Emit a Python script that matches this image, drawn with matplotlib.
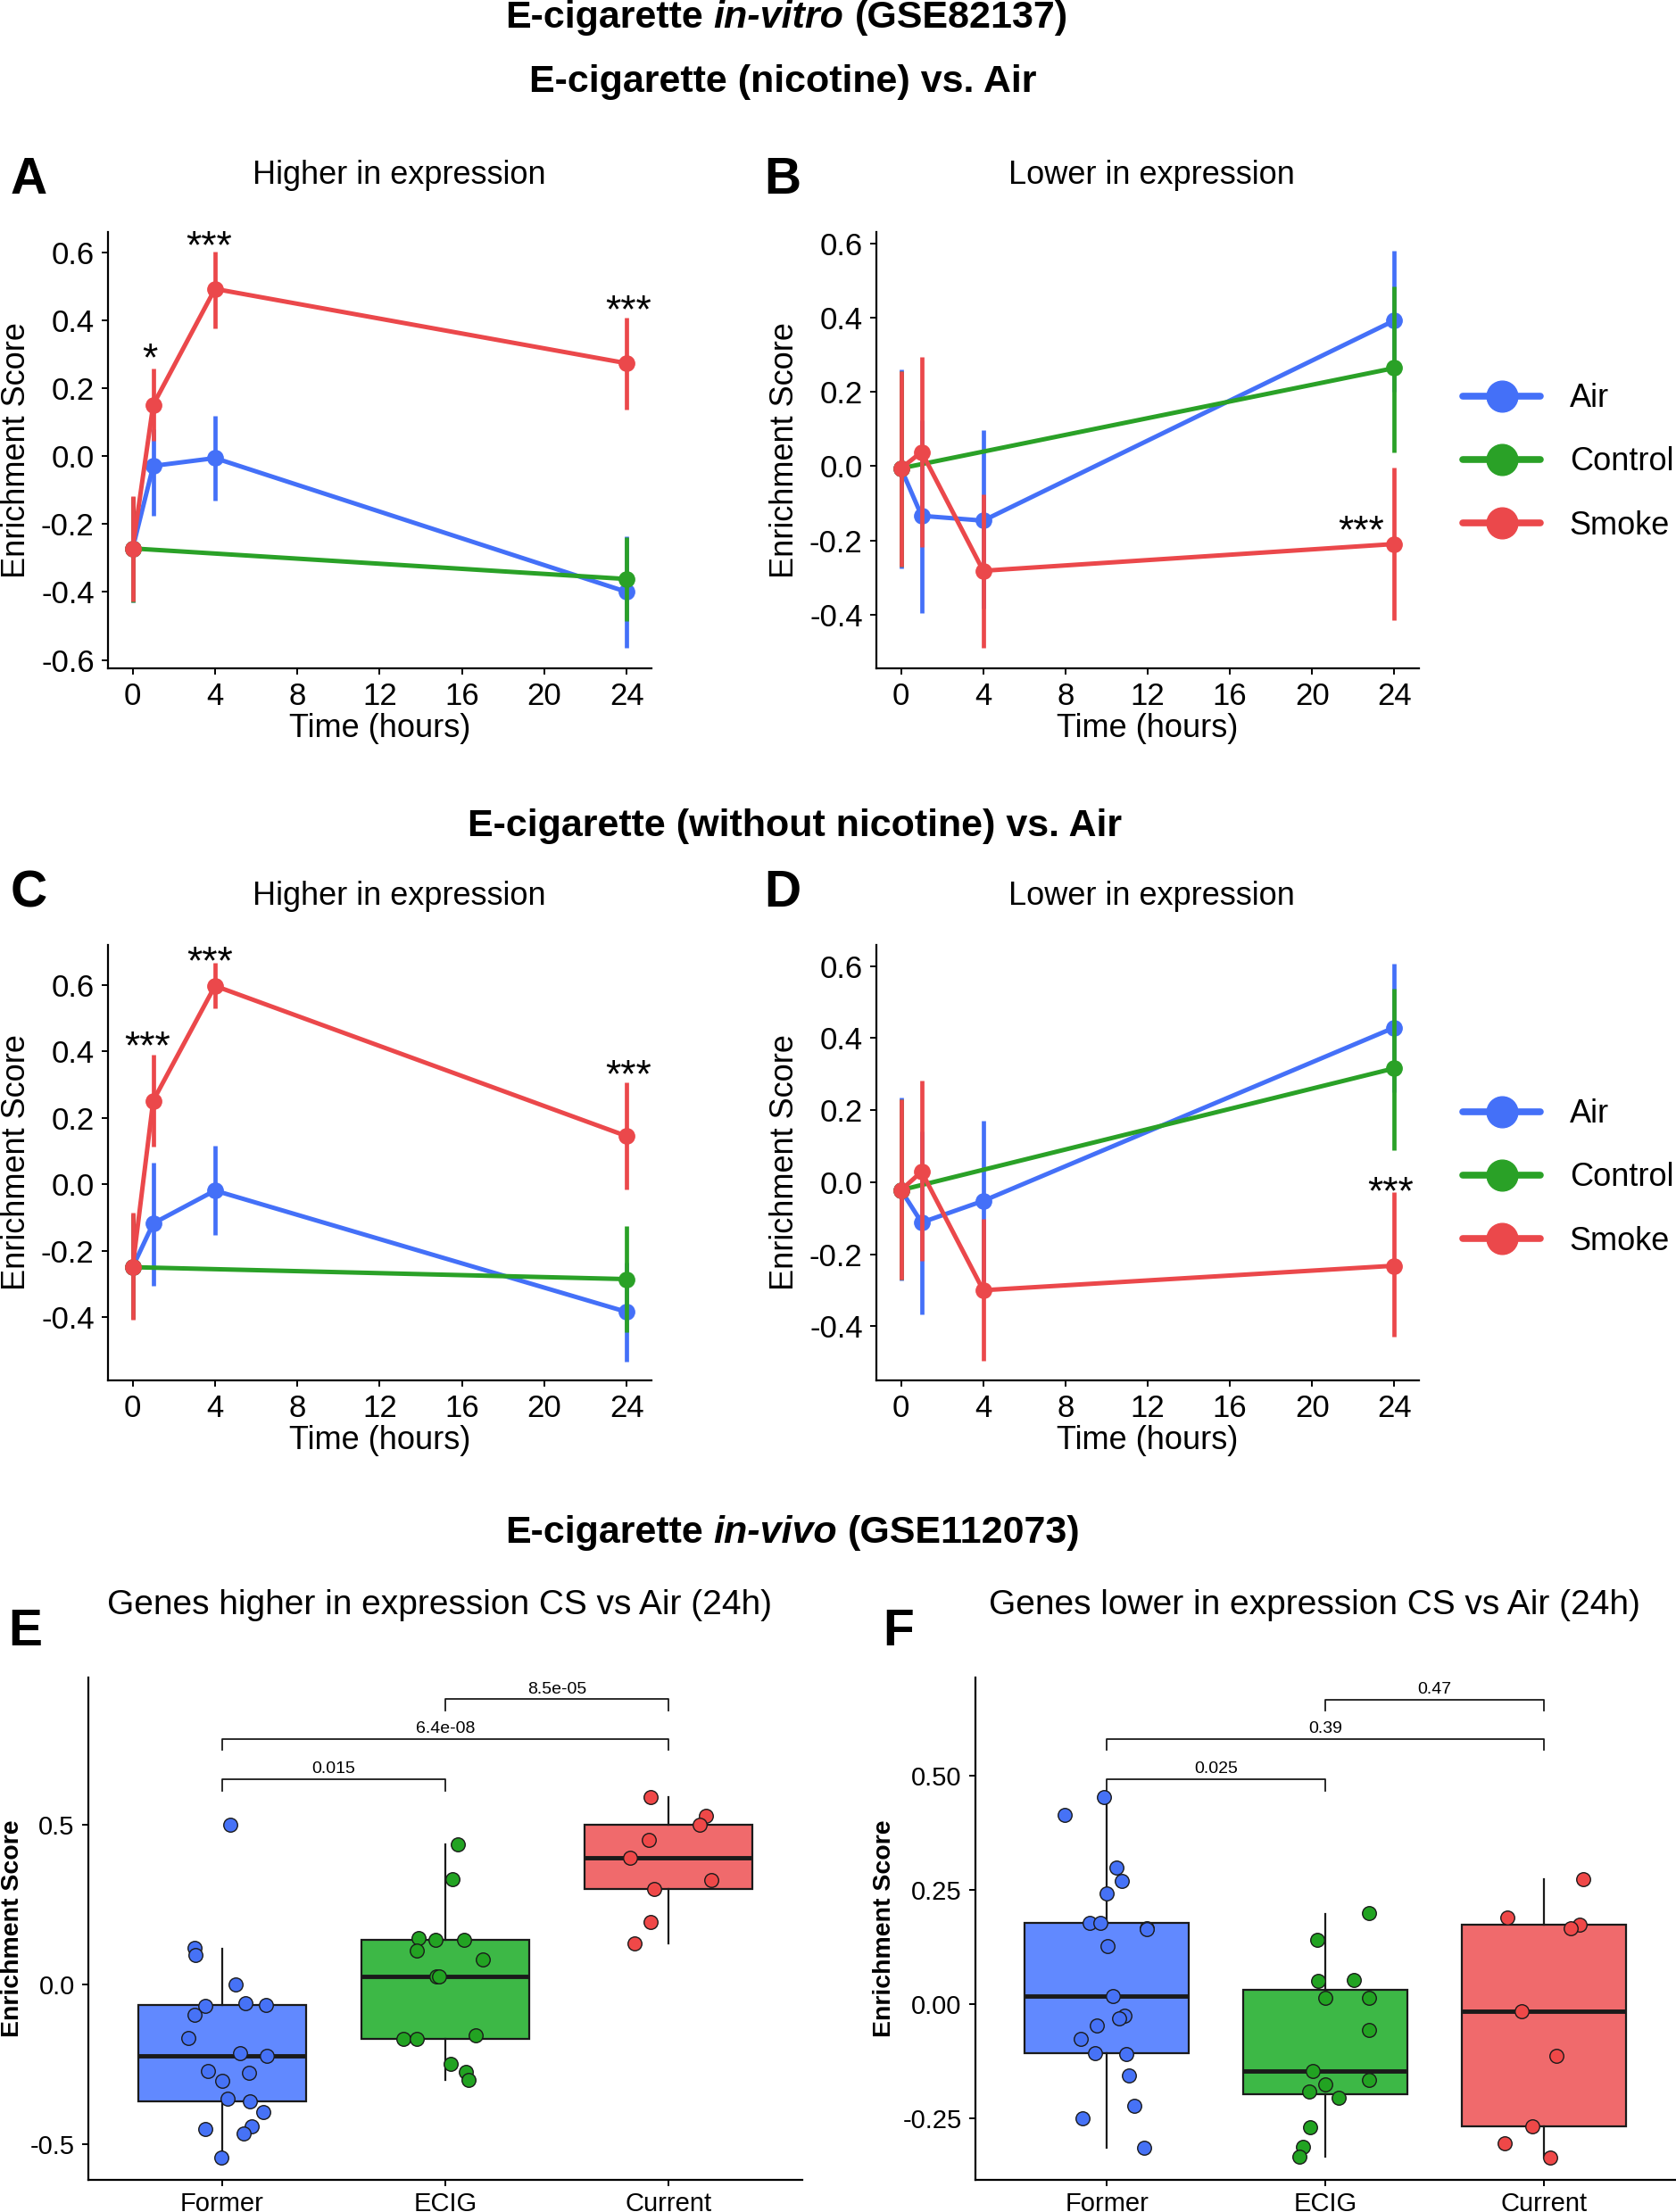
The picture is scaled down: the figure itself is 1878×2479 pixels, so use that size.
import matplotlib
matplotlib.use('Agg')
import matplotlib.pyplot as plt
from matplotlib.lines import Line2D
import numpy as np

plt.rcParams['font.family'] = ['Liberation Sans', 'DejaVu Sans']
plt.rcParams['axes.unicode_minus'] = False

# ---------------- data: in-vitro time courses ----------------
time_points = [0, 1, 4, 24]
control_times = [0, 24]
group_names = ['Air', 'Control', 'Smoke']

# Panel A (nicotine, higher in expression)
A_air = [-0.272, -0.029, -0.006, -0.400]
A_air_lo = [-0.430, -0.177, -0.132, -0.565]
A_air_hi = [-0.120, 0.080, 0.119, -0.235]
A_ctrl = [-0.272, -0.362]
A_ctrl_lo = [-0.430, -0.485]
A_ctrl_hi = [-0.120, -0.240]
A_smoke = [-0.272, 0.151, 0.492, 0.273]
A_smoke_lo = [-0.428, 0.045, 0.375, 0.138]
A_smoke_hi = [-0.117, 0.258, 0.603, 0.407]
A_star_lab = ['*', '***', '***']
A_star_t = [0.85, 3.7, 24.1]
A_star_y = [0.32, 0.65, 0.461]

# Panel B (nicotine, lower in expression)
B_air = [-0.006, -0.134, -0.147, 0.392]
B_air_lo = [-0.275, -0.395, -0.384, 0.200]
B_air_hi = [0.260, 0.123, 0.097, 0.579]
B_ctrl = [-0.006, 0.264]
B_ctrl_lo = [-0.270, 0.038]
B_ctrl_hi = [0.256, 0.485]
B_smoke = [-0.006, 0.038, -0.282, -0.210]
B_smoke_lo = [-0.270, -0.218, -0.489, -0.416]
B_smoke_hi = [0.256, 0.295, -0.077, -0.004]
B_star_lab = ['***']
B_star_t = [22.4]
B_star_y = [-0.145]

# Panel C (without nicotine, higher in expression)
C_air = [-0.250, -0.118, -0.019, -0.385]
C_air_lo = [-0.405, -0.305, -0.154, -0.535]
C_air_hi = [-0.090, 0.064, 0.116, -0.235]
C_ctrl = [-0.250, -0.286]
C_ctrl_lo = [-0.405, -0.447]
C_ctrl_hi = [-0.090, -0.125]
C_smoke = [-0.250, 0.252, 0.598, 0.145]
C_smoke_lo = [-0.408, 0.113, 0.531, -0.015]
C_smoke_hi = [-0.086, 0.390, 0.667, 0.306]
C_star_lab = ['***', '***', '***']
C_star_t = [0.73, 3.77, 24.1]
C_star_y = [0.448, 0.705, 0.362]

# Panel D (without nicotine, lower in expression)
D_air = [-0.022, -0.112, -0.052, 0.429]
D_air_lo = [-0.273, -0.366, -0.275, 0.250]
D_air_hi = [0.234, 0.141, 0.171, 0.606]
D_ctrl = [-0.022, 0.316]
D_ctrl_lo = [-0.270, 0.089]
D_ctrl_hi = [0.231, 0.537]
D_smoke = [-0.022, 0.029, -0.300, -0.232]
D_smoke_lo = [-0.270, -0.219, -0.496, -0.430]
D_smoke_hi = [0.231, 0.282, -0.103, -0.028]
D_star_lab = ['***']
D_star_t = [23.8]
D_star_y = [0.002]

# ---------------- data: in-vivo boxplots ----------------
box_groups = ['Former', 'ECIG', 'Current']

E_former = [0.500, 0.113, 0.091, -0.001, -0.068, -0.061, -0.064, -0.097, -0.168, -0.215,
            -0.225, -0.271, -0.279, -0.303, -0.358, -0.368, -0.402, -0.453, -0.446, -0.467, -0.543]
E_former_jit = [0.038, -0.124, -0.120, 0.060, -0.074, 0.103, 0.196, -0.124, -0.151, 0.079,
                0.199, -0.065, 0.120, 0.000, 0.026, 0.124, 0.184, -0.077, 0.131, 0.098, -0.005]
E_ecig = [0.145, 0.138, 0.138, 0.105, 0.078, 0.024, 0.024, 0.437, 0.329, -0.172,
          -0.172, -0.161, -0.251, -0.275, -0.300]
E_ecig_jit = [-0.120, -0.043, 0.086, -0.127, 0.167, -0.041, -0.026, 0.057, 0.033, -0.187,
              -0.129, 0.136, 0.024, 0.091, 0.105]
E_current = [0.585, 0.526, 0.500, 0.452, 0.397, 0.326, 0.299, 0.195, 0.128]
E_current_jit = [-0.079, 0.170, 0.141, -0.089, -0.172, 0.194, -0.062, -0.081, -0.151]
# box statistics (q1, median, q3, lower whisker, upper whisker)
E_q1 = [-0.368, -0.172, 0.299]
E_med = [-0.225, 0.024, 0.397]
E_q3 = [-0.064, 0.138, 0.500]
E_wlo = [-0.543, -0.300, 0.128]
E_whi = [0.110, 0.437, 0.585]
E_pairs = [(0, 1), (0, 2), (1, 2)]
E_pvals = ['0.015', '6.4e-08', '8.5e-05']
E_bracket_y = [0.641, 0.768, 0.892]

F_former = [0.453, 0.415, 0.300, 0.269, 0.243, 0.178, 0.178, 0.167, 0.165, 0.127, 0.019,
            -0.025, -0.031, -0.046, -0.075, -0.106, -0.109, -0.155, -0.221, -0.250, -0.313]
F_former_jit = [-0.012, -0.192, 0.046, 0.071, 0.000, -0.078, -0.027, 0.182, 0.185, 0.005, 0.029,
                0.083, 0.056, -0.046, -0.119, -0.054, 0.090, 0.102, 0.127, -0.109, 0.170]
F_ecig = [0.200, 0.141, 0.051, 0.053, 0.014, 0.014, -0.057, -0.146, -0.166, -0.176,
          -0.190, -0.204, -0.268, -0.311, -0.334]
F_ecig_jit = [0.197, -0.036, -0.032, 0.131, -0.002, 0.197, 0.200, -0.058, 0.197, -0.002,
              -0.073, 0.061, -0.071, -0.102, -0.119]
F_current = [0.274, 0.190, 0.175, 0.167, -0.015, -0.113, -0.266, -0.303, -0.336]
F_current_jit = [0.180, -0.168, 0.161, 0.119, -0.102, 0.054, -0.056, -0.182, 0.029]
F_q1 = [-0.106, -0.197, -0.266]
F_med = [0.019, -0.146, -0.015]
F_q3 = [0.178, 0.032, 0.174]
F_wlo = [-0.313, -0.334, -0.336]
F_whi = [0.453, 0.198, 0.274]
F_pairs = [(0, 1), (0, 2), (1, 2)]
F_pvals = ['0.025', '0.39', '0.47']
F_bracket_y = [0.492, 0.581, 0.667]

# ---------------- styles ----------------
line_colors = {'Air': '#4470F8', 'Control': '#2AA127', 'Smoke': '#EB484B'}
box_fill = ['#6189FF', '#3DB846', '#F06A6C']
pt_fill = ['#4672F6', '#22A322', '#EF4848']

fig = plt.figure(figsize=(18.78, 24.79), dpi=100)
W, H = 1878.0, 2479.0


def mixed_title(cx, cy, parts, size):
    r = fig.canvas.get_renderer()
    texts = []
    for s, style in parts:
        t = fig.text(0, cy, s, fontsize=size, fontweight='bold', fontstyle=style,
                     ha='left', va='center')
        texts.append(t)
    a1 = fig.text(0, 0, 'a a', fontsize=size, fontweight='bold')
    a2 = fig.text(0, 0, 'aa', fontsize=size, fontweight='bold')
    sp = (a1.get_window_extent(r).width - a2.get_window_extent(r).width) / W
    a1.remove(); a2.remove()
    widths = [t.get_window_extent(r).width / W for t in texts]
    total = sum(widths) + sp * (len(texts) - 1)
    x = cx - total / 2
    for t, w in zip(texts, widths):
        t.set_x(x)
        x += w + sp


def style_axes(ax, tick_size):
    for s in ['top', 'right']:
        ax.spines[s].set_visible(False)
    for s in ['left', 'bottom']:
        ax.spines[s].set_linewidth(1.6)
        ax.spines[s].set_color('black')
    ax.tick_params(direction='out', length=5, width=1.4, labelsize=tick_size,
                   colors='black', pad=6)


def line_panel(rect, series, stars, ylim, yticks, lx):
    ax = fig.add_axes(rect)
    z = 2
    for name, times, vals, lo, hi in series:
        c = line_colors[name]
        ax.vlines(times, lo, hi, color=c, lw=3.4, zorder=z)
        ax.plot(times, vals, color=c, lw=3.6, marker='o', ms=12.5, zorder=z + 0.5)
        z += 1
    labs, ts, ys = stars
    fs = 32
    for s, t, y in zip(labs, ts, ys):
        ax.annotate(s, (t, y), xytext=(0, -0.58 * fs), textcoords='offset points',
                    ha='center', va='baseline', fontsize=fs, zorder=10)
    ax.set_xlim(-1.2, 25.2)
    ax.set_ylim(*ylim)
    ax.set_xticks([0, 4, 8, 12, 16, 20, 24])
    ax.set_xticklabels([str(v) for v in [0, 4, 8, 12, 16, 20, 24]])
    ax.set_yticks(yticks)
    ax.set_yticklabels(['%.1f' % v for v in yticks])
    style_axes(ax, 25)
    ax.set_xlabel('Time (hours)', fontsize=26)
    ax.xaxis.set_label_coords(0.5, -0.138)
    ax.xaxis.label.set_va('center')
    ax.set_ylabel('Enrichment Score', fontsize=26)
    ax.yaxis.set_label_coords(lx, 0.5)
    ax.yaxis.label.set_va('center')
    return ax


def box_panel(rect, pts, jits, q1, med, q3, wlo, whi, pairs, pvals, by, ylim, yticks, ylabs, lx):
    ax = fig.add_axes(rect)
    stats = []
    for i in range(3):
        stats.append(dict(med=med[i], q1=q1[i], q3=q3[i], whislo=wlo[i], whishi=whi[i],
                          fliers=[], label=box_groups[i]))
    bp = ax.bxp(stats, positions=[0, 1, 2], widths=0.75, patch_artist=True,
                showfliers=False, showcaps=False,
                boxprops=dict(edgecolor='#1a1a1a', linewidth=1.6),
                whiskerprops=dict(color='#1a1a1a', linewidth=1.6),
                medianprops=dict(color='#1a1a1a', linewidth=3.5))
    for patch, c in zip(bp['boxes'], box_fill):
        patch.set_facecolor(c)
    for i in range(3):
        ax.scatter(np.array(jits[i]) + i, pts[i], s=125, color=pt_fill[i],
                   edgecolor='#1a1a1a', linewidth=1.0, zorder=5)
    ax.set_xlim(-0.6, 2.6)
    ax.set_ylim(*ylim)
    drop = 0.022 * (ylim[1] - ylim[0])
    for (a, b), p, y in zip(pairs, pvals, by):
        ax.plot([a, a, b, b], [y - drop, y, y, y - drop], color='#1a1a1a', lw=1.3,
                clip_on=False)
        ax.annotate(p, ((a + b) / 2, y), xytext=(0, 2), textcoords='offset points',
                    ha='center', va='bottom', fontsize=14)
    ax.set_xticks([0, 1, 2])
    ax.set_xticklabels(box_groups)
    ax.set_yticks(yticks)
    ax.set_yticklabels(ylabs)
    style_axes(ax, 21)
    ax.tick_params(axis='x', pad=4)
    ax.set_ylabel('Enrichment Score', fontsize=20.5, fontweight='bold')
    ax.yaxis.set_label_coords(lx, 0.5)
    ax.yaxis.label.set_va('center')
    return ax


# ---------------- panels ----------------
yt_A = [-0.6, -0.4, -0.2, 0.0, 0.2, 0.4, 0.6]
yt_B = [-0.4, -0.2, 0.0, 0.2, 0.4, 0.6]

line_panel([0.0644, 0.698, 0.3243, 0.1972],
           [('Air', time_points, A_air, A_air_lo, A_air_hi),
            ('Control', control_times, A_ctrl, A_ctrl_lo, A_ctrl_hi),
            ('Smoke', time_points, A_smoke, A_smoke_lo, A_smoke_hi)],
           (A_star_lab, A_star_t, A_star_y), (-0.624, 0.66), yt_A, -0.168)
line_panel([0.5229, 0.698, 0.3237, 0.1972],
           [('Air', time_points, B_air, B_air_lo, B_air_hi),
            ('Control', control_times, B_ctrl, B_ctrl_lo, B_ctrl_hi),
            ('Smoke', time_points, B_smoke, B_smoke_lo, B_smoke_hi)],
           (B_star_lab, B_star_t, B_star_y), (-0.544, 0.631), yt_B, -0.169)
line_panel([0.0644, 0.376, 0.3243, 0.1969],
           [('Air', time_points, C_air, C_air_lo, C_air_hi),
            ('Control', control_times, C_ctrl, C_ctrl_lo, C_ctrl_hi),
            ('Smoke', time_points, C_smoke, C_smoke_lo, C_smoke_hi)],
           (C_star_lab, C_star_t, C_star_y), (-0.591, 0.722), yt_B, -0.168)
line_panel([0.5229, 0.376, 0.3237, 0.1969],
           [('Air', time_points, D_air, D_air_lo, D_air_hi),
            ('Control', control_times, D_ctrl, D_ctrl_lo, D_ctrl_hi),
            ('Smoke', time_points, D_smoke, D_smoke_lo, D_smoke_hi)],
           (D_star_lab, D_star_t, D_star_y), (-0.55, 0.659), yt_B, -0.169)

box_panel([0.0527, 0.01452, 0.426, 0.2271],
          [E_former, E_ecig, E_current], [E_former_jit, E_ecig_jit, E_current_jit],
          E_q1, E_med, E_q3, E_wlo, E_whi, E_pairs, E_pvals, E_bracket_y,
          (-0.613, 0.96), [-0.5, 0.0, 0.5], ['-0.5', '0.0', '0.5'], -0.106)
box_panel([0.582, 0.01452, 0.4177, 0.2271],
          [F_former, F_ecig, F_current], [F_former_jit, F_ecig_jit, F_current_jit],
          F_q1, F_med, F_q3, F_wlo, F_whi, F_pairs, F_pvals, F_bracket_y,
          (-0.384, 0.715), [-0.25, 0.0, 0.25, 0.5], ['-0.25', '0.00', '0.25', '0.50'], -0.130)

# ---------------- legends ----------------
handles = [Line2D([], [], color=line_colors[g], lw=5.5, marker='o', ms=25,
                  solid_capstyle='round') for g in group_names]
for cy in [1 - 518 / H, 1 - 1320 / H]:
    fig.legend(handles, group_names, loc='center left', bbox_to_anchor=(0.873, cy),
               frameon=False, fontsize=26, handlelength=2.4, handletextpad=0.9,
               labelspacing=1.0, borderpad=0, borderaxespad=0)

# ---------------- titles & labels ----------------
mixed_title(557.5 / 1188, 1 - 20 / H, [('E-cigarette', 'normal'), ('in-vitro', 'italic'),
                                       ('(GSE82137)', 'normal')], 31)
fig.text(555 / 1188, 1 - 92 / H, 'E-cigarette (nicotine) vs. Air', fontsize=31,
         fontweight='bold', ha='center', va='center')
fig.text(563.5 / 1188, 1 - 926 / H, 'E-cigarette (without nicotine) vs. Air', fontsize=31,
         fontweight='bold', ha='center', va='center')
mixed_title(562 / 1188, 1 - 1718 / H, [('E-cigarette', 'normal'), ('in-vivo', 'italic'),
                                      ('(GSE112073)', 'normal')], 31)

for txt, x, y in [('Higher in expression', 447, 196), ('Lower in expression', 1290, 196),
                  ('Higher in expression', 447, 1004), ('Lower in expression', 1290, 1004)]:
    fig.text(x / W, 1 - y / H, txt, fontsize=26, ha='center', va='center')
fig.text(493 / W, 1 - 1799 / H, 'Genes higher in expression CS vs Air (24h)', fontsize=28,
         ha='center', va='center')
fig.text(1473 / W, 1 - 1799 / H, 'Genes lower in expression CS vs Air (24h)', fontsize=28,
         ha='center', va='center')

for L, x, y in [('A', 32, 202), ('B', 877, 202), ('C', 32, 1001), ('D', 877, 1001),
                ('E', 28, 1829), ('F', 1007, 1829)]:
    fig.text(x / W, 1 - y / H, L, fontsize=41, fontweight='bold', ha='center', va='center')

fig.savefig('out.png', dpi=100)
